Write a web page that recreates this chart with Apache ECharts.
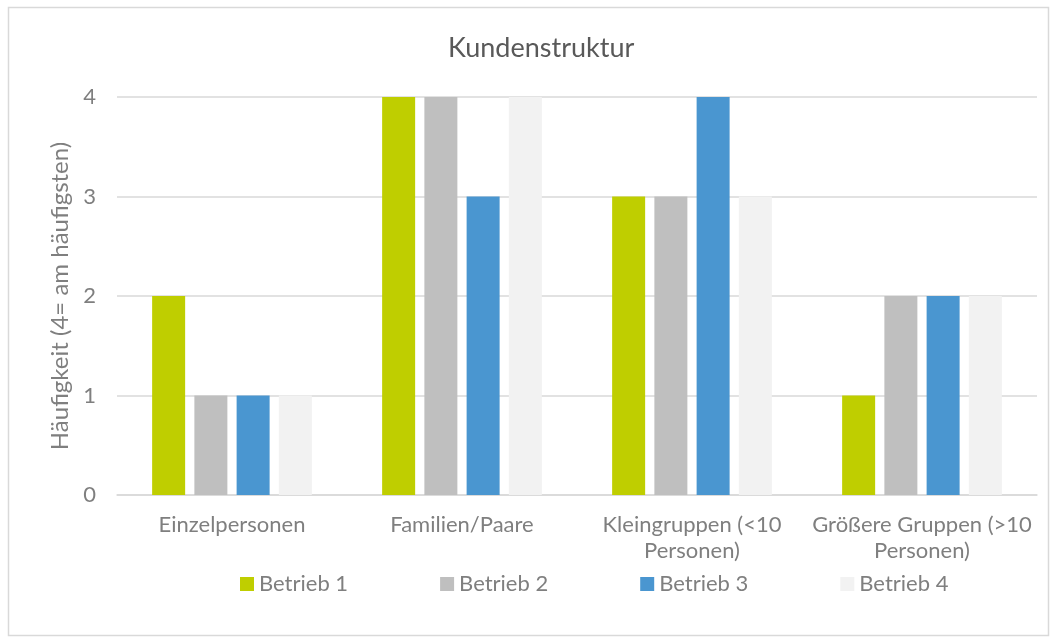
<!DOCTYPE html>
<html><head><meta charset="utf-8">
<script src="https://cdn.jsdelivr.net/npm/echarts@6/dist/echarts.min.js"></script>
<style>html,body{margin:0;padding:0;background:#fff}#c{width:1058px;height:640px}</style>
</head><body><div id="c"></div>
<script>
const categories = ['Einzelpersonen', 'Familien/Paare', 'Kleingruppen (<10\nPersonen)', 'Größere Gruppen (>10\nPersonen)'];
const seriesNames = ['Betrieb 1', 'Betrieb 2', 'Betrieb 3', 'Betrieb 4'];
const betrieb1 = [2, 4, 3, 1];
const betrieb2 = [1, 4, 3, 2];
const betrieb3 = [1, 3, 4, 2];
const betrieb4 = [1, 4, 3, 2];
const colors = ['#BFCE00', '#BFBFBF', '#4A96D0', '#F2F2F2'];
const FONT = 'Lato';
const values = [betrieb1, betrieb2, betrieb3, betrieb4];
const chart = echarts.init(document.getElementById('c'));
chart.setOption({
  animation: false,
  textStyle: { fontFamily: FONT },
  title: { text: 'Kundenstruktur', left: 443, top: 30, textStyle: { fontFamily: FONT, fontSize: 27, fontWeight: 'normal', color: '#595959' } },
  graphic: [{ type: 'rect', shape: { x: 8.5, y: 7.5, width: 1040, height: 628 }, style: { fill: null, stroke: '#D9D9D9', lineWidth: 1.5 }, silent: true, z: -1 }],
  legend: {
    top: 568, left: 235, itemWidth: 14, itemHeight: 14, itemGap: 92,
    icon: 'rect',
    textStyle: { fontFamily: FONT, fontSize: 22, color: '#7F7F7F' },
    data: seriesNames
  },
  grid: { left: 117, right: 21, top: 97, bottom: 145 },
  xAxis: {
    type: 'category', data: categories,
    axisLine: { lineStyle: { color: '#D9D9D9', width: 1.5 } },
    axisTick: { show: false },
    axisLabel: { fontFamily: FONT, fontSize: 22, color: '#7F7F7F', margin: 17, lineHeight: 26, interval: 0 }
  },
  yAxis: {
    type: 'value', min: 0, max: 4, interval: 1,
    name: 'Häufigkeit (4= am häufigsten)', nameLocation: 'middle', nameGap: 45,
    nameTextStyle: { fontFamily: FONT, fontSize: 24, color: '#7F7F7F' },
    axisLabel: { fontFamily: FONT, fontSize: 22, color: '#7F7F7F', margin: 21 },
    splitLine: { lineStyle: { color: '#D9D9D9', width: 1.5 } },
    axisLine: { show: false }, axisTick: { show: false }
  },
  series: seriesNames.map((n, i) => ({
    name: n, type: 'bar', data: values[i], barWidth: 33, barGap: '28%',
    itemStyle: { color: colors[i] }
  }))
});
</script></body></html>
